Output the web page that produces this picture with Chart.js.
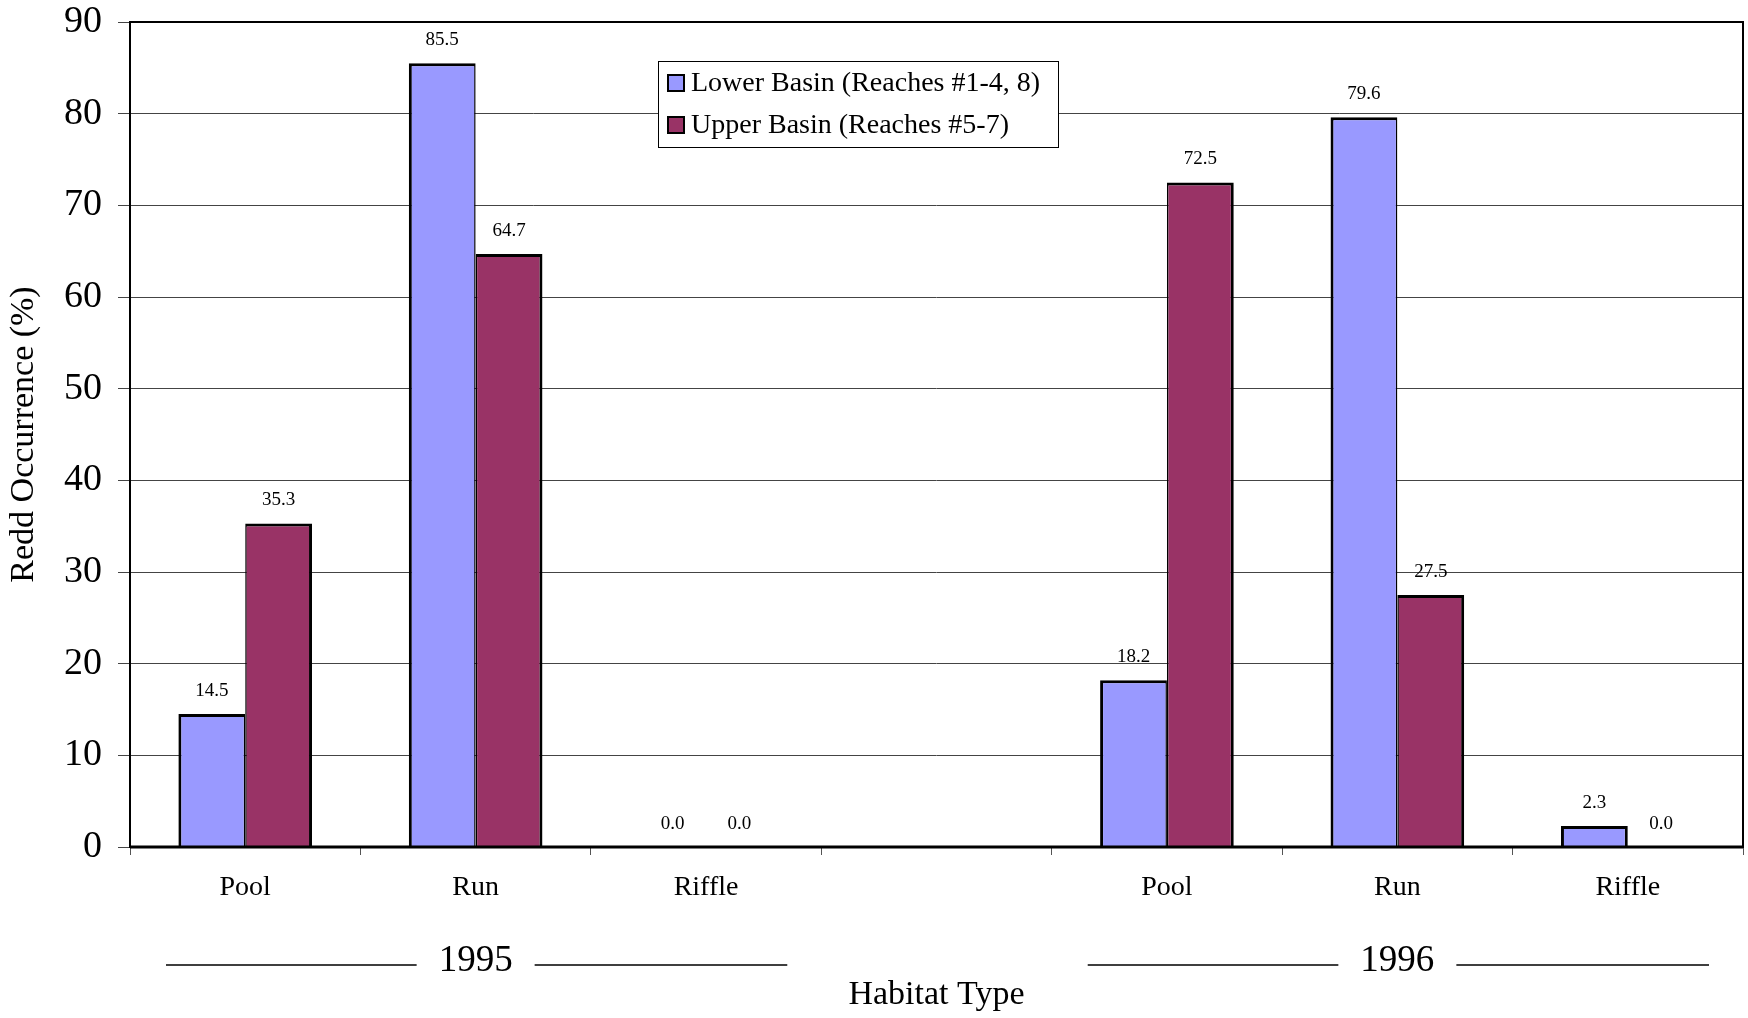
<!DOCTYPE html>
<html>
<head>
<meta charset="utf-8">
<script src="https://cdn.jsdelivr.net/npm/chart.js@4"></script>
<style>
    html, body { margin: 0; padding: 0; background: #fff; }
    #wrap { width: 1748px; height: 1018px; }
</style>
</head>
<body>
<div id="wrap"><canvas id="chart"></canvas></div>
<script>
// Chart data
const habitats = ['Pool', 'Run', 'Riffle', '', 'Pool', 'Run', 'Riffle'];
const lowerBasin = [14.5, 85.5, 0.0, null, 18.2, 79.6, 2.3];
const upperBasin = [35.3, 64.7, 0.0, null, 72.5, 27.5, 0.0];
const seriesNames = ['Lower Basin (Reaches #1-4, 8)', 'Upper Basin (Reaches #5-7)'];
const years = ['1995', '1996'];
const yearSpans = [[0, 2], [4, 6]];
const yTicks = [0, 10, 20, 30, 40, 50, 60, 70, 80, 90];

const FONT = '"Liberation Serif", "Times New Roman", serif';

// Adjacent bars share one outline, so halve the inner edge
function edgeWidth(side) {
    return (ctx) => {
        const other = ctx.datasetIndex === 0 ? upperBasin : lowerBasin;
        const touching = other[ctx.dataIndex] > 0;
        const inner = ctx.datasetIndex === 0 ? 'right' : 'left';
        return {
            top: 3,
            bottom: 0,
            left: (inner === 'left' && touching) ? 1.5 : 3,
            right: (inner === 'right' && touching) ? 1.5 : 3
        };
    };
}

// Value labels above each bar
const valueLabels = {
    id: 'valueLabels',
    afterDatasetsDraw(chart) {
        const ctx = chart.ctx;
        ctx.save();
        ctx.font = '19px ' + FONT;
        ctx.fillStyle = '#000';
        ctx.textAlign = 'center';
        ctx.textBaseline = 'middle';
        chart.data.datasets.forEach((ds, di) => {
            chart.getDatasetMeta(di).data.forEach((bar, i) => {
                const v = ds.data[i];
                if (v === null || v === undefined) return;
                ctx.fillText(v.toFixed(1), bar.x, bar.y - 23);
            });
        });
        ctx.restore();
    }
};

// Frame, legend and year groups
const extras = {
    id: 'extras',
    afterDraw(chart) {
        const ctx = chart.ctx;
        const area = chart.chartArea;
        const x = chart.scales.x;

        ctx.save();
        // plot frame
        ctx.strokeStyle = '#000';
        ctx.lineWidth = 2;
        ctx.strokeRect(area.left, area.top, area.right - area.left, area.bottom - area.top);
        ctx.lineWidth = 3;
        ctx.beginPath();
        ctx.moveTo(area.left, area.bottom);
        ctx.lineTo(area.right, area.bottom);
        ctx.stroke();

        // legend box
        const lx = area.left + 528, ly = area.top + 39;
        ctx.fillStyle = '#fff';
        ctx.fillRect(lx, ly, 400, 86);
        ctx.lineWidth = 1;
        ctx.strokeRect(lx + 0.5, ly + 0.5, 400, 86);
        ctx.font = '28px ' + FONT;
        ctx.textAlign = 'left';
        ctx.textBaseline = 'middle';
        chart.data.datasets.forEach((ds, i) => {
            const cy = ly + 22 + i * 42;
            ctx.fillStyle = ds.backgroundColor;
            ctx.fillRect(lx + 10, cy - 8, 16, 16);
            ctx.lineWidth = 2;
            ctx.strokeStyle = '#000';
            ctx.strokeRect(lx + 10, cy - 8, 16, 16);
            ctx.fillStyle = '#000';
            ctx.fillText(ds.label, lx + 33, cy + 1);
        });

        // year group labels
        const w = x.getPixelForValue(1) - x.getPixelForValue(0);
        ctx.font = '37px ' + FONT;
        ctx.textAlign = 'center';
        ctx.textBaseline = 'middle';
        ctx.lineWidth = 1.5;
        years.forEach((yr, i) => {
            const start = x.getPixelForValue(yearSpans[i][0]) - w / 2;
            const end = x.getPixelForValue(yearSpans[i][1]) + w / 2;
            const mid = (start + end) / 2;
            const half = ctx.measureText(yr).width / 2 + 22;
            ctx.fillStyle = '#000';
            ctx.fillText(yr, mid, 961);
            ctx.beginPath();
            ctx.moveTo(start + 36, 965);
            ctx.lineTo(mid - half, 965);
            ctx.moveTo(mid + half, 965);
            ctx.lineTo(end - 34, 965);
            ctx.stroke();
        });
        ctx.restore();
    }
};

new Chart(document.getElementById('chart'), {
    type: 'bar',
    data: {
        labels: habitats,
        datasets: [
            {
                label: seriesNames[0],
                data: lowerBasin,
                backgroundColor: '#9999FF',
                borderColor: '#000',
                borderWidth: edgeWidth()
            },
            {
                label: seriesNames[1],
                data: upperBasin,
                backgroundColor: '#993366',
                borderColor: '#000',
                borderWidth: edgeWidth()
            }
        ]
    },
    options: {
        responsive: true,
        maintainAspectRatio: false,
        animation: false,
        devicePixelRatio: 1,
        categoryPercentage: 0.58,
        barPercentage: 1.0,
        layout: { padding: { top: 22, right: 5, left: 0, bottom: 0 } },
        plugins: {
            legend: { display: false },
            tooltip: { enabled: false }
        },
        scales: {
            x: {
                grid: {
                    offset: true,
                    drawOnChartArea: false,
                    drawTicks: true,
                    tickLength: 8,
                    color: '#555'
                },
                border: { display: false },
                ticks: {
                    color: '#000',
                    font: { family: FONT, size: 28 },
                    padding: 16,
                    maxRotation: 0
                },
                title: {
                    display: true,
                    text: 'Habitat Type',
                    color: '#000',
                    font: { family: FONT, size: 34 },
                    padding: { top: 0, bottom: 3 }
                },
                afterFit(scale) {
                    scale.height = 171;
                    scale.paddingLeft = 0;
                    scale.paddingRight = 0;
                }
            },
            y: {
                min: 0,
                max: 90,
                afterBuildTicks(scale) {
                    scale.ticks = yTicks.map(v => ({ value: v }));
                },
                grid: {
                    color: '#444',
                    lineWidth: 1,
                    tickLength: 12
                },
                border: { display: false },
                ticks: {
                    color: '#000',
                    font: { family: FONT, size: 38 },
                    padding: 16
                },
                title: {
                    display: true,
                    text: 'Redd Occurrence (%)',
                    color: '#000',
                    font: { family: FONT, size: 34 },
                    padding: { top: 4, bottom: 0 }
                },
                afterFit(scale) {
                    scale.width = 130;
                    scale.paddingTop = 0;
                    scale.paddingBottom = 0;
                }
            }
        }
    },
    plugins: [valueLabels, extras]
});
</script>
</body>
</html>
